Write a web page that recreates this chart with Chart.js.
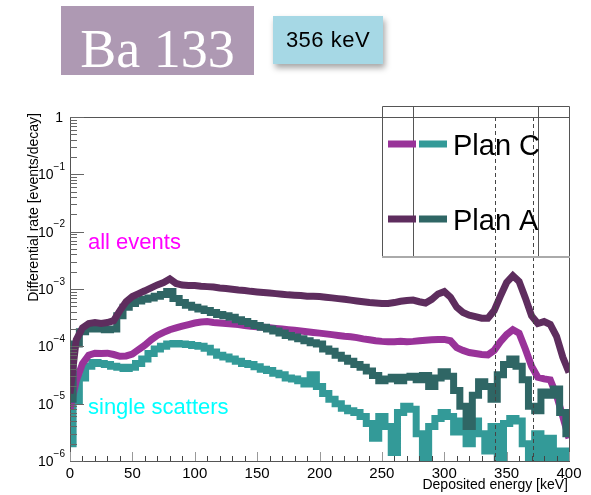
<!DOCTYPE html>
<html>
<head>
<meta charset="utf-8">
<script src="https://cdn.jsdelivr.net/npm/chart.js@4/dist/chart.umd.min.js"></script>
<style>
  body { margin: 0; background: #fff; }
  #wrap { position: relative; width: 591px; height: 495px; overflow: hidden; }
  #chart { position: absolute; left: 0; top: 0; }
  #ba {
    position: absolute; left: 61px; top: 6px; width: 193px; height: 69px; overflow: hidden;
    background: #ae99b3; color: #fff; text-align: center;
    font: 54px 'Liberation Serif', 'DejaVu Serif', serif; line-height: 86px;
  }
  #kev {
    position: absolute; left: 273px; top: 16px; width: 110px; height: 48px;
    background: #a6d8e5; color: #000; text-align: center;
    font: 22px 'Liberation Sans', Arial, sans-serif; line-height: 48px; letter-spacing: 0.5px;
    box-shadow: 2px 4px 6px rgba(0,0,0,0.35);
  }
</style>
</head>
<body>
<div id="wrap">
  <canvas id="chart" width="591" height="495"></canvas>
  <div id="ba">Ba 133</div>
  <div id="kev">356 keV</div>
</div>
<script>
// bin positions [keV]
const energies = [
  0, 5, 10, 15, 20, 25, 30, 35, 40, 45,
  50, 55, 60, 65, 70, 75, 80, 85, 90, 95,
  100, 105, 110, 115, 120, 125, 130, 135, 140, 145,
  150, 155, 160, 165, 170, 175, 180, 185, 190, 195,
  200, 205, 210, 215, 220, 225, 230, 235, 240, 245,
  250, 255, 260, 265, 270, 275, 280, 285, 290, 295,
  300, 305, 310, 315, 320, 325, 330, 335, 340, 345,
  350, 355, 360, 365, 370, 375, 380, 385, 390, 395,
  400
];

// Plan A, all events
const planAAll = [
  1.5e-5, 1.3e-4, 2.1e-4, 2.5e-4, 2.6e-4, 2.5e-4, 2.6e-4, 2.8e-4, 4.2e-4, 6.0e-4,
  7.4e-4, 8.3e-4, 9.3e-4, 1.05e-3, 1.18e-3, 1.3e-3, 1.5e-3, 1.25e-3, 1.17e-3, 1.15e-3,
  1.15e-3, 1.12e-3, 1.1e-3, 1.08e-3, 1.04e-3, 1.02e-3, 9.9e-4, 9.6e-4, 9.4e-4, 9.1e-4,
  8.9e-4, 8.7e-4, 8.5e-4, 8.3e-4, 8.1e-4, 7.9e-4, 7.8e-4, 7.7e-4, 7.5e-4, 7.5e-4,
  7.4e-4, 7.2e-4, 7.0e-4, 6.8e-4, 6.6e-4, 6.4e-4, 6.2e-4, 6.0e-4, 5.8e-4, 5.7e-4,
  5.6e-4, 5.6e-4, 5.8e-4, 6.1e-4, 6.3e-4, 6.4e-4, 6.0e-4, 5.7e-4, 6.6e-4, 8.2e-4,
  9.0e-4, 7.2e-4, 4.8e-4, 3.9e-4, 3.5e-4, 3.3e-4, 3.1e-4, 3.1e-4, 4.2e-4, 7.5e-4,
  1.3e-3, 1.7e-3, 1.35e-3, 7.0e-4, 3.4e-4, 2.5e-4, 2.7e-4, 2.4e-4, 1.5e-4, 6.5e-5,
  3.5e-5
];

// Plan A, single scatters
const planASingle = [
  1.2e-5, 1.1e-4, 1.8e-4, 2.0e-4, 2.1e-4, 2.0e-4, 1.95e-4, 2.0e-4, 3.4e-4, 4.8e-4,
  5.6e-4, 6.2e-4, 6.6e-4, 7.0e-4, 7.5e-4, 8.0e-4, 9.0e-4, 6.8e-4, 5.8e-4, 5.2e-4,
  4.8e-4, 4.5e-4, 4.2e-4, 3.9e-4, 3.6e-4, 3.4e-4, 3.2e-4, 2.9e-4, 2.7e-4, 2.5e-4,
  2.3e-4, 2.15e-4, 2.0e-4, 1.85e-4, 1.7e-4, 1.55e-4, 1.45e-4, 1.35e-4, 1.25e-4, 1.15e-4,
  1.1e-4, 9.0e-5, 8.2e-5, 7.0e-5, 6.2e-5, 5.5e-5, 4.8e-5, 4.3e-5, 3.7e-5, 3.1e-5,
  2.5e-5, 2.7e-5, 2.9e-5, 2.5e-5, 2.9e-5, 3.0e-5, 2.6e-5, 3.1e-5, 2.0e-5, 2.8e-5,
  3.6e-5, 3.0e-5, 1.7e-5, 9e-6, 4e-6, 1.4e-5, 2.4e-5, 2.0e-5, 1.2e-5, 3.2e-5,
  4.8e-5, 6.0e-5, 4.5e-5, 2.6e-5, 9e-6, 7.5e-6, 1.6e-5, 1.4e-5, 1.8e-5, 7e-6,
  3e-6
];

// Plan C, all events
const planCAll = [
  8e-6, 2.5e-5, 5e-5, 7e-5, 7.6e-5, 7.5e-5, 7.6e-5, 7.2e-5, 6.7e-5, 6.8e-5,
  7.3e-5, 8.8e-5, 1.05e-4, 1.3e-4, 1.55e-4, 1.75e-4, 1.95e-4, 2.1e-4, 2.25e-4, 2.4e-4,
  2.55e-4, 2.65e-4, 2.7e-4, 2.6e-4, 2.55e-4, 2.5e-4, 2.45e-4, 2.4e-4, 2.3e-4, 2.25e-4,
  2.2e-4, 2.15e-4, 2.1e-4, 2.05e-4, 2.0e-4, 1.95e-4, 1.9e-4, 1.85e-4, 1.8e-4, 1.75e-4,
  1.7e-4, 1.65e-4, 1.6e-4, 1.55e-4, 1.5e-4, 1.47e-4, 1.42e-4, 1.35e-4, 1.3e-4, 1.25e-4,
  1.22e-4, 1.2e-4, 1.2e-4, 1.22e-4, 1.2e-4, 1.22e-4, 1.25e-4, 1.28e-4, 1.3e-4, 1.32e-4,
  1.32e-4, 1.25e-4, 9.5e-5, 8.5e-5, 7.8e-5, 7.5e-5, 7.2e-5, 7.1e-5, 8.5e-5, 1.2e-4,
  1.6e-4, 1.95e-4, 1.7e-4, 9e-5, 4.5e-5, 2.9e-5, 2.7e-5, 2.6e-5, 1.4e-5, 6e-6,
  2.5e-6
];

// Plan C, single scatters
const planCSingle = [
  2e-6, 1.1e-5, 2.8e-5, 4.5e-5, 5.2e-5, 5.0e-5, 4.8e-5, 4.5e-5, 4.3e-5, 4.1e-5,
  4.3e-5, 5.0e-5, 6.0e-5, 7.5e-5, 9.0e-5, 1.0e-4, 1.1e-4, 1.12e-4, 1.1e-4, 1.08e-4,
  1.03e-4, 1.0e-4, 9.3e-5, 8.0e-5, 7.0e-5, 6.5e-5, 6.0e-5, 5.5e-5, 5.0e-5, 4.8e-5,
  4.4e-5, 4.0e-5, 3.8e-5, 3.4e-5, 3.2e-5, 2.8e-5, 2.7e-5, 2.5e-5, 2.2e-5, 3.2e-5,
  2.0e-5, 1.5e-5, 1.2e-5, 1.0e-5, 8.3e-6, 7.5e-6, 7.0e-6, 6.0e-6, 4.5e-6, 2.5e-6,
  6.0e-6, 4.0e-6, 1.4e-6, 7e-6, 9e-6, 8e-6, 3e-6, 8e-7, 4e-6, 5.5e-6,
  7e-6, 6e-6, 3.2e-6, 5e-6, 2e-6, 5e-6, 3e-6, 1.5e-6, 4e-6, 7e-7,
  4.5e-6, 5.5e-6, 5e-6, 2e-6, 7e-7, 3e-6, 1.1e-6, 2.5e-6, 7e-7, 1.5e-6,
  7e-7
];

const xLabels = [0, 50, 100, 150, 200, 250, 300, 350, 400];
const yDecades = [-6, -5, -4, -3, -2, -1, 0];
const windowEdges = [341, 371];
const legendRows = [
  { text: 'Plan C', colors: ['#993399', '#339a98'] },
  { text: 'Plan A', colors: ['#5e2d5e', '#2f6665'] }
];

const FONT = "'Liberation Sans', Arial, sans-serif";

function toPoints(values) {
  return energies.map((e, i) => ({ x: e, y: values[i] }));
}

function histo(label, values, color, order, stepped) {
  return {
    label: label,
    data: toPoints(values),
    borderColor: color,
    backgroundColor: color,
    borderWidth: 7,
    stepped: stepped,
    pointRadius: 0,
    fill: false,
    order: order
  };
}

const rootStyle = {
  id: 'rootStyle',
  afterDatasetsDraw(chart) {
    const ctx = chart.ctx;
    const area = chart.chartArea;
    const xs = chart.scales.x;
    const ys = chart.scales.y;
    ctx.save();

    // dashed energy window
    ctx.strokeStyle = '#444';
    ctx.lineWidth = 1;
    ctx.setLineDash([4, 3]);
    windowEdges.forEach(e => {
      const px = Math.round(xs.getPixelForValue(e)) + 0.5;
      ctx.beginPath();
      ctx.moveTo(px, area.top);
      ctx.lineTo(px, area.bottom);
      ctx.stroke();
    });
    ctx.setLineDash([]);

    // frame
    ctx.strokeStyle = '#555';
    ctx.lineWidth = 1;
    ctx.strokeRect(Math.round(area.left) + 0.5, Math.round(area.top) + 0.5,
      Math.round(area.right - area.left), Math.round(area.bottom - area.top));

    // y ticks (inside)
    ctx.strokeStyle = '#666';
    yDecades.forEach(d => {
      for (let m = 1; m <= 9; m++) {
        const v = m * Math.pow(10, d);
        if (v > 1.0000001) break;
        const py = Math.round(ys.getPixelForValue(v)) + 0.5;
        const len = m === 1 ? 14 : 7;
        ctx.beginPath();
        ctx.moveTo(area.left, py);
        ctx.lineTo(area.left + len, py);
        ctx.stroke();
      }
    });

    // x ticks (inside)
    for (let e = 0; e <= 400; e += 10) {
      const px = Math.round(xs.getPixelForValue(e)) + 0.5;
      const major = e % 50 === 0;
      ctx.strokeStyle = major ? '#999' : '#444';
      ctx.beginPath();
      ctx.moveTo(px, area.bottom);
      ctx.lineTo(px, area.bottom - (major ? 9 : 5));
      ctx.stroke();
    }

    // y labels
    ctx.fillStyle = '#000';
    ctx.textBaseline = 'middle';
    yDecades.forEach(d => {
      const py = ys.getPixelForValue(Math.pow(10, d));
      const rightEdge = area.left - 5;
      if (d === 0) {
        ctx.font = '14px ' + FONT;
        ctx.textAlign = 'right';
        ctx.fillText('1', rightEdge - 2, py + 1);
        return;
      }
      const exp = '\u2212' + (-d);
      ctx.font = '10px ' + FONT;
      const ew = ctx.measureText(exp).width;
      ctx.textAlign = 'right';
      ctx.fillText(exp, rightEdge, py - 7);
      ctx.font = '14px ' + FONT;
      ctx.fillText('10', rightEdge - ew, py + 1);
    });

    // x labels
    ctx.font = '15px ' + FONT;
    ctx.textAlign = 'center';
    ctx.textBaseline = 'alphabetic';
    xLabels.forEach(e => {
      ctx.fillText(String(e), xs.getPixelForValue(e), area.bottom + 17);
    });

    // axis titles
    ctx.font = '14px ' + FONT;
    ctx.textAlign = 'right';
    ctx.fillText('Deposited energy [keV]', area.right - 1, area.bottom + 28);
    ctx.save();
    ctx.translate(38, area.top - 4);
    ctx.rotate(-Math.PI / 2);
    ctx.textAlign = 'right';
    ctx.fillText('Differential rate [events/decay]', 0, 0);
    ctx.restore();

    // annotations
    ctx.font = '22px ' + FONT;
    ctx.textAlign = 'left';
    ctx.fillStyle = '#ff00ff';
    ctx.fillText('all events', 88, 249);
    ctx.fillStyle = '#00ffff';
    ctx.fillText('single scatters', 88, 414);

    // legend box
    ctx.strokeStyle = '#555';
    ctx.lineWidth = 1;
    ctx.beginPath();
    ctx.moveTo(382.5, 257); ctx.lineTo(382.5, 106.5); ctx.lineTo(569.5, 106.5); ctx.lineTo(569.5, 257);
    ctx.moveTo(413.5, 106.5); ctx.lineTo(413.5, 257);
    ctx.moveTo(538.5, 106.5); ctx.lineTo(538.5, 257);
    ctx.stroke();
    ctx.strokeStyle = '#aaa';
    ctx.lineWidth = 2;
    ctx.beginPath();
    ctx.moveTo(382, 257); ctx.lineTo(570, 257);
    ctx.stroke();

    legendRows.forEach((row, i) => {
      const cy = i === 0 ? 144 : 219;
      ctx.fillStyle = row.colors[0];
      ctx.fillRect(388, cy - 3.5, 28, 7);
      ctx.fillStyle = row.colors[1];
      ctx.fillRect(419, cy - 3.5, 28, 7);
      ctx.fillStyle = '#000';
      ctx.font = '29px ' + FONT;
      ctx.textAlign = 'left';
      ctx.textBaseline = 'alphabetic';
      ctx.fillText(row.text, 453, cy + 11);
    });

    ctx.restore();
  }
};

new Chart(document.getElementById('chart'), {
  type: 'line',
  data: {
    datasets: [
      histo('Plan A all', planAAll, '#5e2d5e', 1, false),
      histo('Plan A single', planASingle, '#2f6665', 2, 'middle'),
      histo('Plan C all', planCAll, '#993399', 3, false),
      histo('Plan C single', planCSingle, '#339a98', 4, 'middle')
    ]
  },
  options: {
    responsive: false,
    animation: false,
    devicePixelRatio: 1,
    layout: { padding: { left: 70, right: 22, top: 117, bottom: 34 } },
    plugins: { legend: { display: false }, tooltip: { enabled: false } },
    scales: {
      x: { type: 'linear', min: 0, max: 400, display: false },
      y: { type: 'logarithmic', min: 1e-6, max: 1, display: false }
    }
  },
  plugins: [rootStyle]
});
</script>
</body>
</html>
